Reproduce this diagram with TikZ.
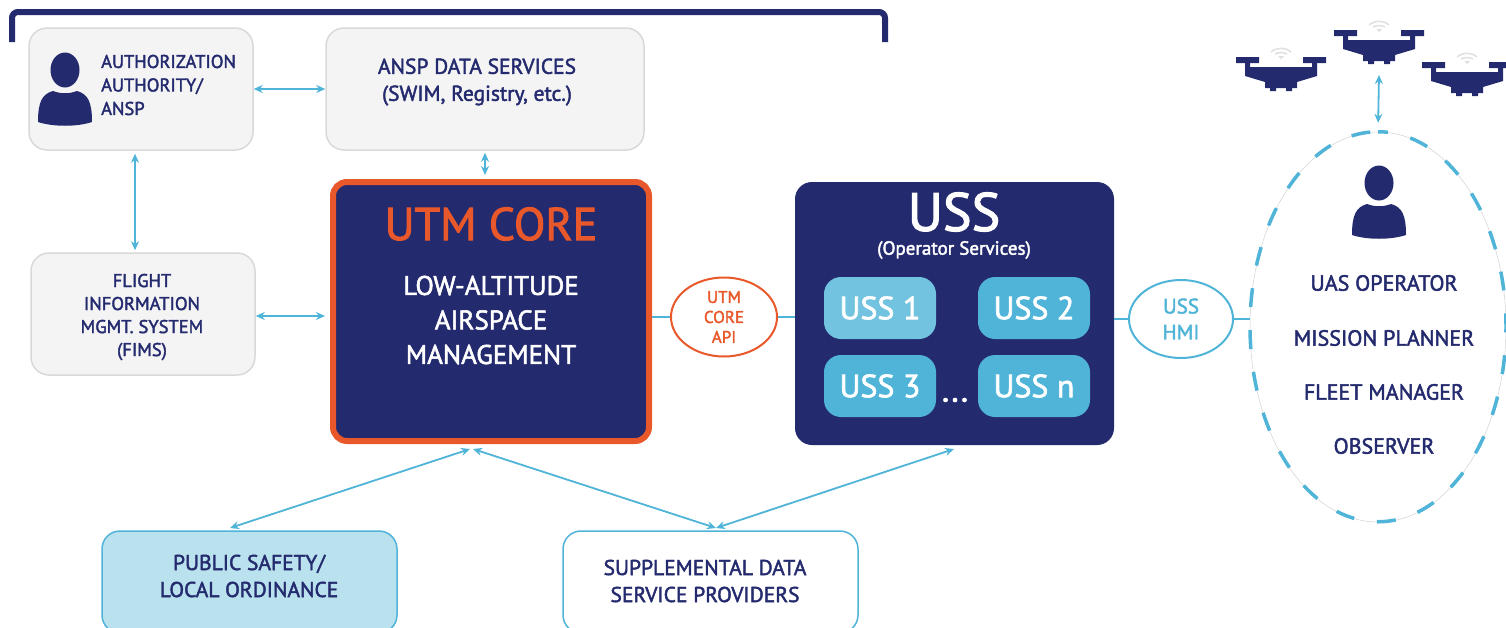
\documentclass[tikz,border=0pt]{standalone}
\usepackage{fontspec}
\setmainfont[FakeBold=2]{PT Sans}
\usetikzlibrary{positioning, arrows.meta, calc, shapes.geometric}

\definecolor{utmnavy}{HTML}{242A6E}
\definecolor{utmorange}{HTML}{E8582A}
\definecolor{utmblue}{HTML}{4FB4D7}
\definecolor{utmlight}{HTML}{B9E2EE}
\definecolor{utmgray}{HTML}{F4F4F5}
\definecolor{utmedge}{HTML}{D9D9DB}

\tikzset{
  greybox/.style={draw=utmedge, line width=1.5pt, fill=utmgray, rounded corners=18pt, inner sep=0pt},
  whitebox/.style={draw=utmblue, line width=1.5pt, fill=white, rounded corners=18pt, inner sep=0pt},
  boxlabel/.style={text=utmnavy, align=center, inner sep=0pt},
  ussbox/.style={fill=utmblue, rounded corners=17pt, text=white, minimum width=112pt, minimum height=62pt, inner sep=0pt, font=\fontsize{32}{36}\selectfont},
  apibubble/.style={ellipse, draw, line width=2pt, fill=white, inner sep=0pt, align=center},
  link/.style={utmblue, line width=2.2pt},
  twoway/.style={utmblue, line width=1.8pt, {Stealth[length=9pt,width=8pt]}-{Stealth[length=9pt,width=8pt]}},
  navytext/.style={text=utmnavy, font=\fontsize{22}{26}\selectfont, inner sep=0pt},
  person/.pic={
    \fill[utmnavy] (0,-37) ellipse (14.5 and 17.5);
    \fill[utmnavy] (-27,15) .. controls (-27,-5) and (-23,-13) .. (-12,-16)
      .. controls (-4,-13) and (4,-13) .. (12,-16)
      .. controls (23,-13) and (27,-5) .. (27,15)
      .. controls (12,20) and (-12,20) .. (-27,15) -- cycle;
  },
  drone/.pic={
    \fill[utmnavy] (-45,0) rectangle (-22,6) (22,0) rectangle (45,6);
    \fill[utmnavy] (-36,6) -- (-31,6) -- (-31,10) -- (31,10) -- (31,6) -- (36,6) -- (36,19)
      -- (16,25) -- (16,31) -- (11,31) -- (11,34) -- (5,34) -- (5,31) -- (-5,31) -- (-5,34)
      -- (-11,34) -- (-11,31) -- (-16,31) -- (-16,25) -- (-36,19) -- cycle;
    \draw[gray!25, line width=1.5pt] (-10,-5) .. controls (-4,-10) and (4,-10) .. (10,-5);
    \draw[gray!25, line width=1.5pt] (-6,-3) .. controls (-2,-5) and (2,-5) .. (6,-3);
    \fill[gray!25] (-3,-1) -- (3,-1) -- (0,2) -- cycle;
  },
}

\begin{document}
\begin{tikzpicture}[x=1pt, y=-1pt]
\useasboundingbox (0,0) rectangle (1506,627);

% top bracket
\draw[utmnavy, line width=6pt, rounded corners=6pt] (12,42) -- (12,12) -- (885,12) -- (885,42);

% grey boxes
\node[greybox, minimum width=224pt, minimum height=122pt] (auth) at (141,89) {};
\node[greybox, minimum width=318pt, minimum height=122pt] (ansp) at (485,89) {};
\node[greybox, minimum width=224pt, minimum height=122pt] (fims) at (143,314) {};
\node[boxlabel, font=\fontsize{21.5}{27}\selectfont] (ansplabel) at (477,82) {ANSP DATA SERVICES\\(SWIM, Registry, etc.)};
\node[boxlabel, font=\fontsize{18.5}{23}\selectfont] (fimslabel) at (142,317) {FLIGHT\\INFORMATION\\MGMT. SYSTEM\\(FIMS)};
\node[boxlabel, align=left, anchor=west, font=\fontsize{18.5}{23.5}\selectfont] (authlabel) at (101,85) {AUTHORIZATION\\AUTHORITY/\\ANSP};
\pic at (65,107) {person};

% core
\node[draw=utmorange, line width=6pt, fill=utmnavy, rounded corners=14pt, minimum width=316pt, minimum height=259pt] (core) at (491,311.5) {};
\node[text=utmorange, inner sep=0pt, font=\fontsize{46}{50}\selectfont] (coretitle) at (491,224) {UTM CORE};
\node[text=white, align=center, inner sep=0pt, font=\fontsize{27}{34.5}\selectfont] (corelabel) at (491,320) {LOW-ALTITUDE\\AIRSPACE\\MANAGEMENT};

% uss
\node[fill=utmnavy, rounded corners=17pt, minimum width=319pt, minimum height=263pt] (uss) at (954.5,313.5) {};
\node[text=white, inner sep=0pt, font=\fontsize{54}{58}\selectfont] (usstitle) at (954,212) {USS};
\node[text=white, inner sep=0pt, font=\fontsize{19}{22}\selectfont] (usssub) at (954,250) {(Operator Services)};
\node[ussbox, fill=utmblue!80!white] (uss1) at (880,308) {USS 1};
\node[ussbox] (uss2) at (1034,308) {USS 2};
\node[ussbox] (uss3) at (880,386) {USS 3};
\node[ussbox] (ussn) at (1034,386) {USS n};
\node[text=white, inner sep=0pt, font=\fontsize{34}{34}\selectfont] (dots) at (955,400) {...};

% bubbles
\node[apibubble, draw=utmorange, text=utmorange, minimum width=106pt, minimum height=79pt, font=\fontsize{17}{20}\selectfont] (api) at (724,317) {UTM\\CORE\\API};
\node[apibubble, draw=utmblue, text=utmblue, minimum width=104pt, minimum height=78pt, font=\fontsize{21}{26}\selectfont] (hmi) at (1181,319) {USS\\HMI};

% operator
\node[ellipse, draw=gray!35, line width=0.5pt, fill=white, minimum width=256pt, minimum height=390pt, inner sep=0pt] (oper) at (1378,327) {};
\draw[utmblue, line width=3.5pt, dash pattern=on 19pt off 23pt, dash phase=9pt] (oper.north) arc[start angle=-90, end angle=270, x radius=128, y radius=195];
\pic at (1379,220) {person};
\node[navytext] (oper1) at (1384,283) {UAS OPERATOR};
\node[navytext] (oper2) at (1384,338) {MISSION PLANNER};
\node[navytext] (oper3) at (1384,392) {FLEET MANAGER};
\node[navytext] (oper4) at (1384,446) {OBSERVER};

% drones
\pic at (1281,57) {drone};
\pic at (1379,30) {drone};
\pic at (1467,62) {drone};
\coordinate (droneB) at (1379,75);

% lower boxes
\node[whitebox, fill=utmlight, minimum width=295pt, minimum height=102pt] (public) at (249.5,582) {};
\node[whitebox, minimum width=295pt, minimum height=102pt] (suppl) at (710.5,582) {};
\node[boxlabel, font=\fontsize{21.5}{27}\selectfont] (publiclabel) at (249,576) {PUBLIC SAFETY/\\LOCAL ORDINANCE};
\node[boxlabel, font=\fontsize{21.5}{27}\selectfont] (suppllabel) at (705,581) {SUPPLEMENTAL DATA\\SERVICE PROVIDERS};

\coordinate (coreA) at (470,449);
\coordinate (coreB) at (473,449);
\coordinate (ussA) at (954,449);
\coordinate (publicN) at (230,528);
\coordinate (supplN) at (716,528);

% connectors
\draw[twoway] (auth.east) -- (auth.east -| ansp.west);
\draw[twoway, shorten <=2pt, shorten >=4pt] (ansp.south) -- (ansp.south |- core.north);
\draw[twoway, shorten <=3pt, shorten >=2pt] ([xshift=-6pt]auth.south) -- ([xshift=-8pt]fims.north);
\draw[twoway, shorten >=5pt] ([yshift=-2pt]fims.east) -- ([yshift=-2pt]fims.east -| core.west);
\draw[link] (api) -- (api -| core.east);
\draw[link] (api) -- (api -| uss.west);
\draw[link] (hmi) -- (hmi -| uss.east);
\draw[link] (hmi) -- (hmi -| oper.west);
\draw[twoway, shorten >=9pt] (droneB) -- (oper.north);
\draw[twoway] (coreA) -- (publicN);
\draw[twoway] (coreB) -- (supplN);
\draw[twoway] (ussA) -- (supplN);
\end{tikzpicture}
\end{document}
